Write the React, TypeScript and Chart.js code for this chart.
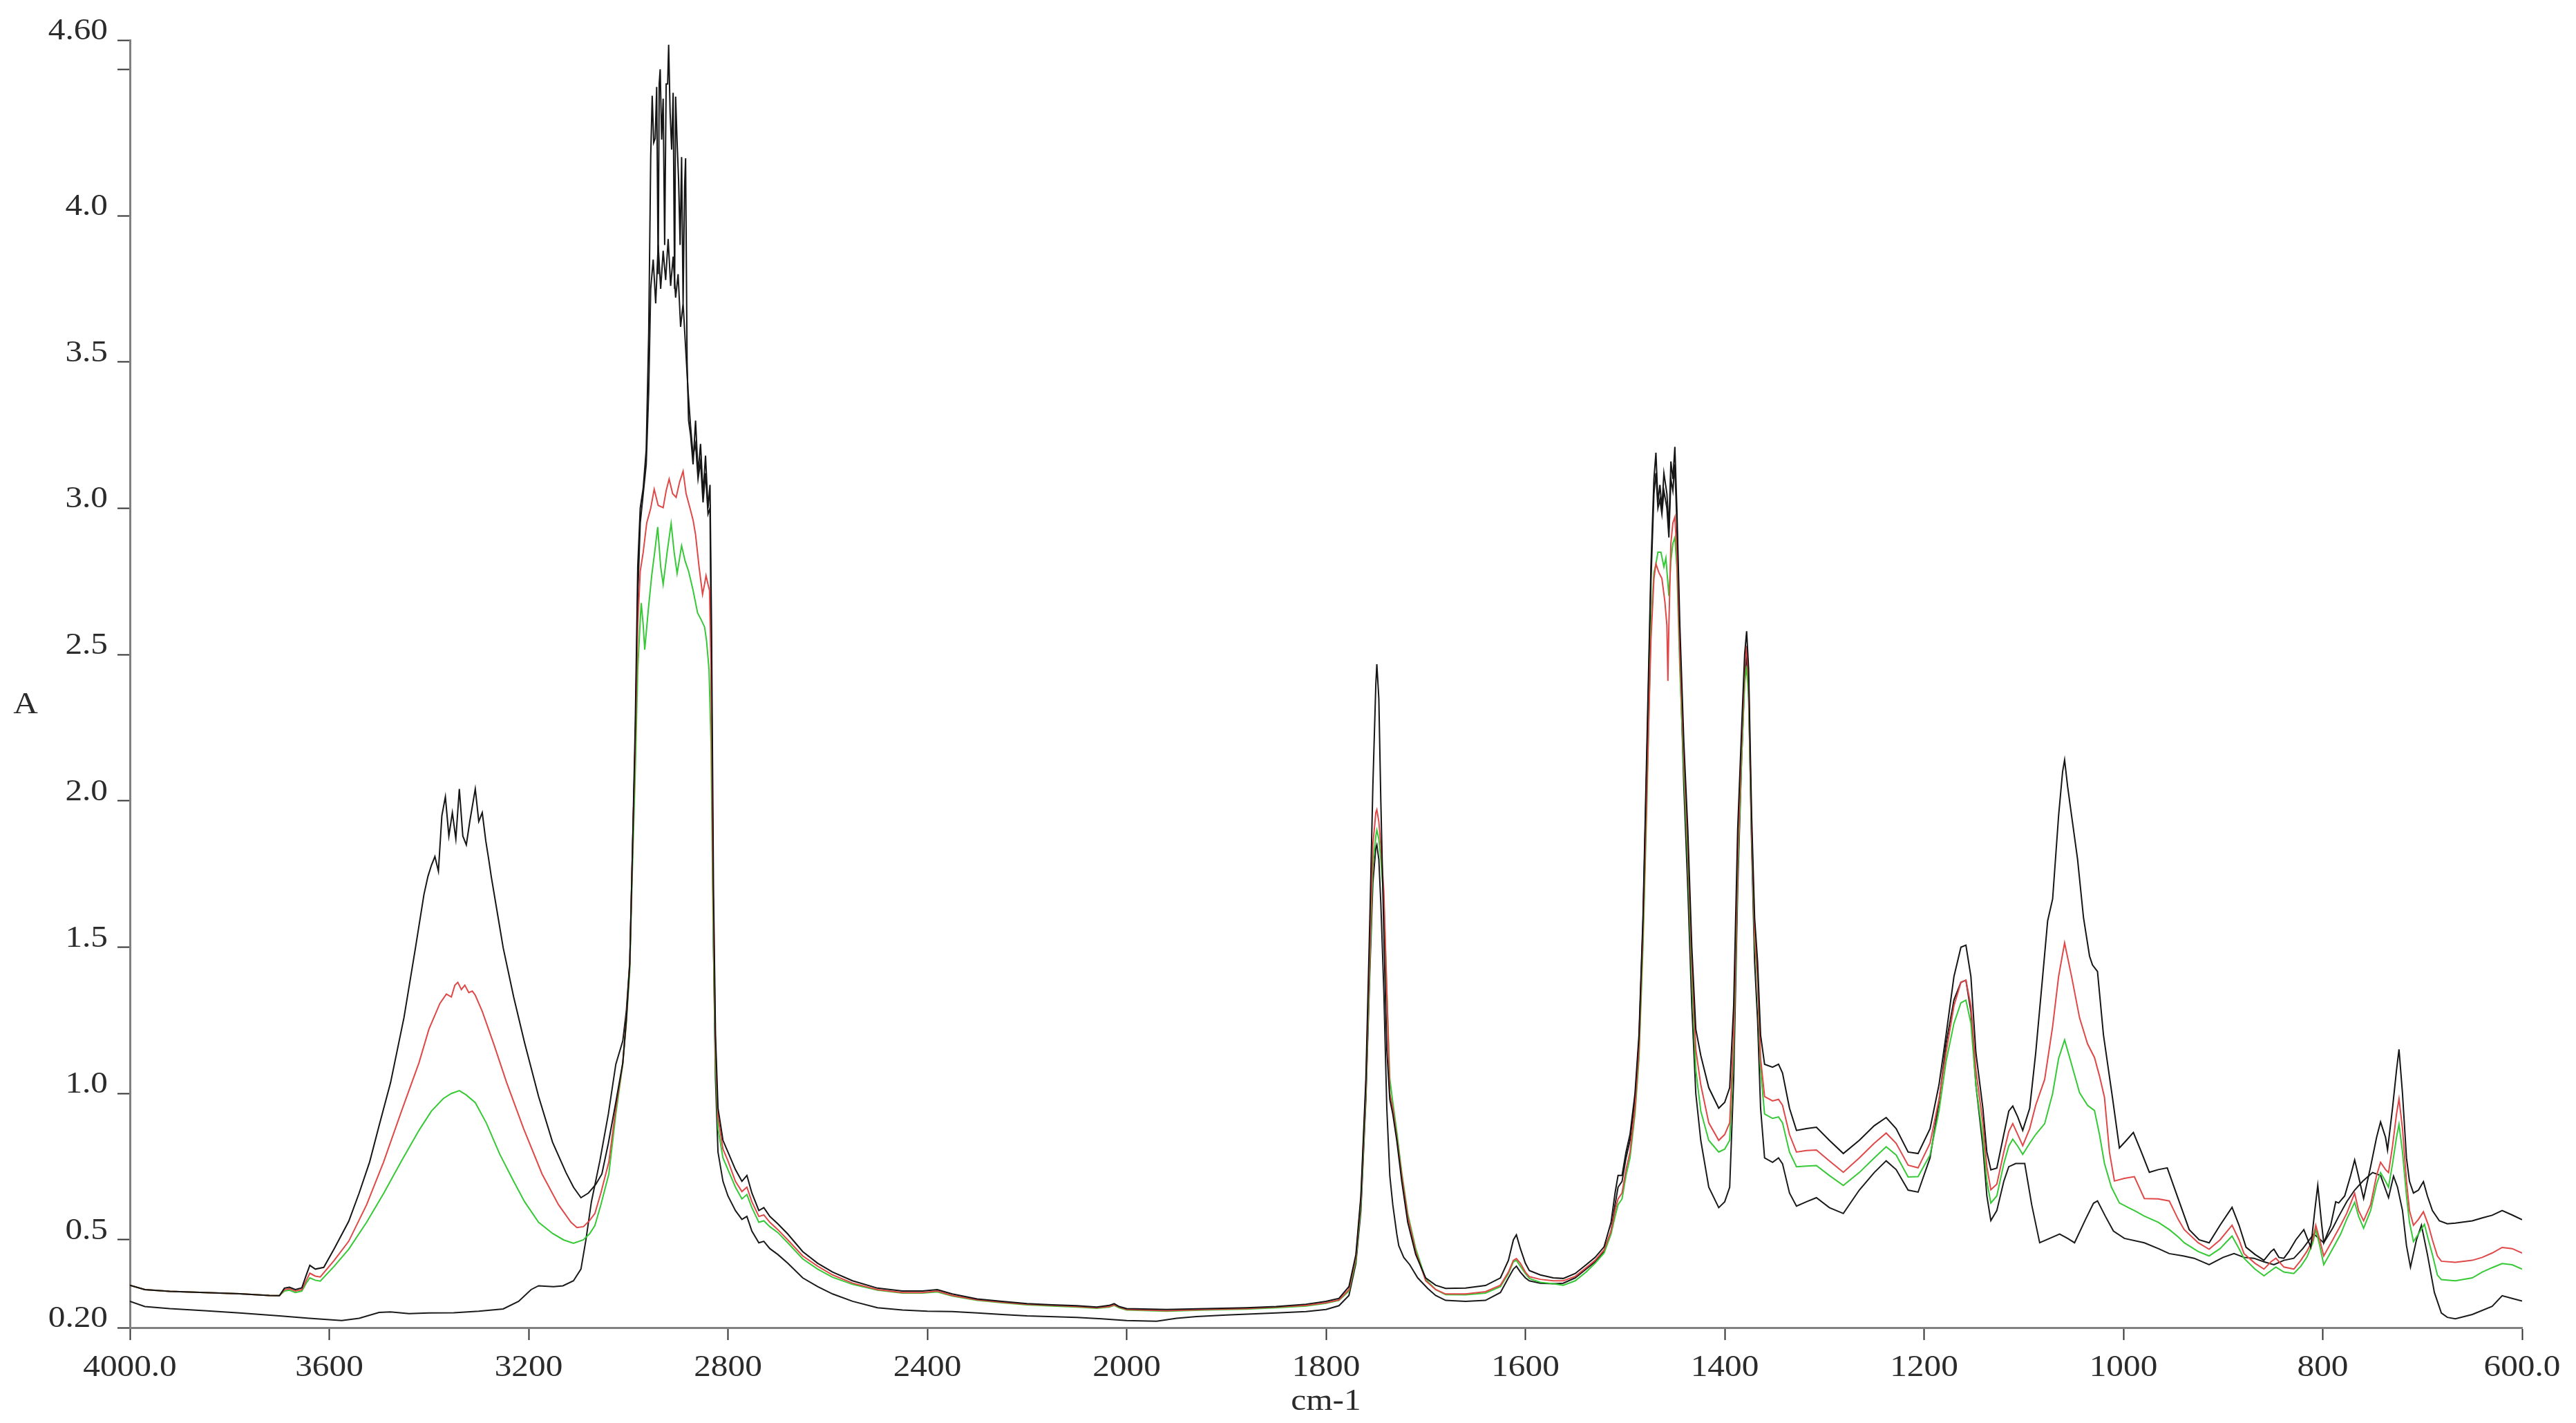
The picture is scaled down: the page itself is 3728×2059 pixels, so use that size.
import React, { useEffect, useRef } from "react";
import { Chart, registerables, LinearScale } from "chart.js";

Chart.register(...registerables);

// ---------------- data (wavenumber cm-1, absorbance A) ----------------
const xTickValues = [4000, 3600, 3200, 2800, 2400, 2000, 1800, 1600, 1400, 1200, 1000, 800, 600];
const xTickLabels = ["4000.0", "3600", "3200", "2800", "2400", "2000", "1800", "1600", "1400", "1200", "1000", "800", "600.0"];
const yTickValues = [0.2, 0.5, 1.0, 1.5, 2.0, 2.5, 3.0, 3.5, 4.0, 4.5, 4.6];
const yTickLabels = ["0.20", "0.5", "1.0", "1.5", "2.0", "2.5", "3.0", "3.5", "4.0", "", "4.60"];
const xTitle = "cm-1";
const yTitle = "A";

const upperBlack: [number, number][] = [
  [4000, 0.345], [3970, 0.33], [3920, 0.324], [3850, 0.32], [3780, 0.316], [3720, 0.31], [3700, 0.309],
  [3690, 0.335], [3680, 0.338], [3668, 0.33], [3655, 0.336], [3645, 0.385], [3639, 0.413], [3628, 0.4],
  [3611, 0.406], [3590, 0.47], [3561, 0.563], [3540, 0.66], [3519, 0.766], [3500, 0.89], [3477, 1.037],
  [3450, 1.26], [3427, 1.498], [3410, 1.68], [3402, 1.742], [3395, 1.78], [3388, 1.81], [3381, 1.76],
  [3374, 1.95], [3367, 2.014], [3360, 1.88], [3353, 1.96], [3346, 1.87], [3339, 2.041], [3332, 1.88],
  [3325, 1.85], [3318, 1.93], [3307, 2.041], [3300, 1.93], [3293, 1.96], [3286, 1.864], [3280, 1.8],
  [3275, 1.742], [3263, 1.62], [3251, 1.498], [3230, 1.33], [3208, 1.173], [3180, 0.99], [3152, 0.834],
  [3125, 0.73], [3110, 0.68], [3095, 0.644], [3080, 0.66], [3065, 0.69], [3053, 0.725], [3040, 0.83],
  [3025, 0.97], [3011, 1.105], [3004, 1.25], [2997, 1.444], [2992, 1.8], [2986, 2.26], [2981, 2.8],
  [2976, 3.0], [2970, 3.07], [2964, 3.2], [2959, 3.6], [2955, 4.2], [2952, 4.41], [2949, 4.25],
  [2946, 4.264], [2943, 4.44], [2940, 3.8], [2938, 4.45], [2936, 4.5], [2933, 4.26], [2930, 4.4],
  [2927, 3.9], [2924, 4.45], [2921, 4.45], [2919, 4.584], [2916, 4.35], [2913, 4.226], [2910, 4.42],
  [2907, 3.75], [2905, 4.407], [2902, 4.25], [2899, 4.12], [2896, 3.9], [2893, 4.2], [2890, 3.7],
  [2887, 4.1], [2885, 4.196], [2882, 3.5], [2879, 3.3], [2875, 3.25], [2870, 3.15], [2865, 3.3],
  [2860, 3.12], [2855, 3.22], [2850, 3.05], [2845, 3.18], [2840, 3.0], [2836, 3.08], [2833, 2.6],
  [2829, 1.7], [2825, 1.2], [2820, 0.95], [2810, 0.84], [2800, 0.8], [2785, 0.74], [2772, 0.7],
  [2762, 0.72], [2752, 0.66], [2738, 0.6], [2728, 0.61], [2716, 0.58], [2700, 0.555], [2680, 0.52],
  [2650, 0.46], [2620, 0.42], [2590, 0.39], [2550, 0.36], [2500, 0.335], [2450, 0.325], [2410, 0.325],
  [2380, 0.33], [2350, 0.315], [2300, 0.298], [2250, 0.29], [2200, 0.282], [2150, 0.278], [2100, 0.275],
  [2060, 0.27], [2035, 0.276], [2025, 0.282], [2015, 0.272], [2000, 0.265], [1960, 0.262], [1920, 0.265],
  [1880, 0.268], [1850, 0.272], [1820, 0.28], [1800, 0.29], [1787, 0.3], [1777, 0.34], [1770, 0.45],
  [1765, 0.65], [1760, 1.05], [1756, 1.6], [1753, 2.05], [1750, 2.4], [1749, 2.467], [1747, 2.35],
  [1745, 2.0], [1742, 1.55], [1739, 1.15], [1736, 0.98], [1733, 0.93], [1729, 0.84], [1724, 0.7],
  [1718, 0.56], [1710, 0.45], [1700, 0.37], [1690, 0.345], [1680, 0.334], [1660, 0.335], [1640, 0.344],
  [1625, 0.37], [1617, 0.43], [1612, 0.5], [1609, 0.517], [1605, 0.47], [1600, 0.42], [1596, 0.395],
  [1585, 0.38], [1572, 0.37], [1562, 0.368], [1550, 0.385], [1539, 0.415], [1530, 0.44], [1521, 0.476],
  [1514, 0.56], [1510, 0.66], [1507, 0.72], [1503, 0.72], [1499, 0.8], [1495, 0.86], [1490, 1.0],
  [1486, 1.2], [1482, 1.6], [1478, 2.2], [1474, 2.8], [1471, 3.1], [1469, 3.19], [1467, 3.02],
  [1465, 3.08], [1463, 3.0], [1461, 3.12], [1458, 3.05], [1456, 2.93], [1454, 3.16], [1452, 3.1],
  [1450, 3.21], [1448, 3.0], [1445, 2.6], [1441, 2.2], [1437, 1.9], [1433, 1.5], [1429, 1.22],
  [1424, 1.13], [1416, 1.02], [1406, 0.95], [1400, 0.97], [1395, 1.02], [1391, 1.3], [1387, 1.9],
  [1383, 2.25], [1380, 2.5], [1378, 2.58], [1376, 2.45], [1373, 1.95], [1370, 1.6], [1367, 1.45],
  [1364, 1.2], [1360, 1.1], [1352, 1.09], [1346, 1.1], [1342, 1.07], [1335, 0.95], [1328, 0.874],
  [1318, 0.88], [1308, 0.885], [1295, 0.84], [1281, 0.795], [1265, 0.84], [1250, 0.89], [1238, 0.918],
  [1228, 0.88], [1216, 0.8], [1206, 0.795], [1194, 0.88], [1185, 1.03], [1178, 1.198], [1170, 1.4],
  [1163, 1.5], [1158, 1.507], [1153, 1.4], [1148, 1.14], [1141, 0.95], [1137, 0.8], [1133, 0.739],
  [1127, 0.745], [1120, 0.86], [1115, 0.94], [1111, 0.957], [1106, 0.92], [1101, 0.874], [1094, 0.95],
  [1088, 1.138], [1081, 1.4], [1076, 1.59], [1071, 1.665], [1065, 1.95], [1061, 2.1], [1059, 2.14],
  [1056, 2.05], [1052, 1.95], [1046, 1.801], [1040, 1.6], [1034, 1.47], [1031, 1.439], [1026, 1.417],
  [1020, 1.2], [1011, 0.987], [1004, 0.814], [997, 0.84], [990, 0.867], [982, 0.8], [974, 0.731],
  [965, 0.74], [956, 0.746], [945, 0.64], [934, 0.535], [924, 0.5], [914, 0.49], [903, 0.55],
  [891, 0.611], [884, 0.55], [877, 0.475], [868, 0.45], [859, 0.43], [852, 0.46], [849, 0.468],
  [844, 0.44], [839, 0.437], [834, 0.46], [827, 0.5], [819, 0.535], [812, 0.475], [808, 0.6],
  [805, 0.686], [801, 0.55], [799, 0.49], [792, 0.55], [787, 0.63], [784, 0.626], [778, 0.65],
  [772, 0.72], [768, 0.773], [765, 0.73], [759, 0.641], [752, 0.75], [746, 0.85], [742, 0.903],
  [737, 0.85], [735, 0.807], [730, 0.95], [726, 1.08], [723.5, 1.151], [720, 1.0], [716, 0.78],
  [713, 0.7], [709, 0.66], [704, 0.67], [699, 0.699], [695, 0.65], [690, 0.6], [683, 0.565],
  [675, 0.555], [667, 0.557], [650, 0.565], [640, 0.575], [630, 0.584], [620, 0.6], [610, 0.585], [600, 0.569],
];

const redTrace: [number, number][] = [
  [4000, 0.345], [3970, 0.33], [3920, 0.324], [3850, 0.32], [3780, 0.316], [3720, 0.31], [3700, 0.309],
  [3690, 0.33], [3680, 0.333], [3668, 0.325], [3655, 0.33], [3645, 0.365], [3639, 0.386], [3628, 0.376],
  [3618, 0.373], [3590, 0.43], [3561, 0.495], [3525, 0.62], [3491, 0.766], [3455, 0.94], [3420, 1.105],
  [3400, 1.22], [3378, 1.308], [3365, 1.34], [3355, 1.33], [3348, 1.37], [3342, 1.38], [3335, 1.355],
  [3328, 1.37], [3320, 1.345], [3313, 1.35], [3307, 1.336], [3293, 1.281], [3270, 1.17], [3244, 1.037],
  [3210, 0.88], [3173, 0.725], [3140, 0.62], [3115, 0.56], [3103, 0.542], [3090, 0.545], [3078, 0.565],
  [3067, 0.59], [3055, 0.66], [3039, 0.766], [3025, 0.95], [3011, 1.105], [3004, 1.25], [2997, 1.444],
  [2992, 1.8], [2986, 2.2], [2981, 2.6], [2976, 2.785], [2970, 2.85], [2963, 2.95], [2955, 3.0],
  [2948, 3.065], [2940, 3.01], [2930, 3.002], [2924, 3.06], [2918, 3.1], [2911, 3.05], [2904, 3.037],
  [2897, 3.09], [2890, 3.127], [2884, 3.05], [2877, 3.006], [2870, 2.96], [2865, 2.91], [2858, 2.8],
  [2851, 2.706], [2847, 2.74], [2844, 2.77], [2840, 2.74], [2837, 2.72], [2834, 2.45], [2830, 1.7],
  [2825, 1.15], [2820, 0.92], [2810, 0.81], [2800, 0.77], [2785, 0.7], [2772, 0.665], [2762, 0.68],
  [2752, 0.63], [2738, 0.58], [2728, 0.585], [2716, 0.56], [2700, 0.535], [2680, 0.5], [2650, 0.445],
  [2620, 0.41], [2590, 0.38], [2550, 0.352], [2500, 0.33], [2450, 0.32], [2410, 0.32], [2380, 0.325],
  [2350, 0.31], [2300, 0.295], [2250, 0.287], [2200, 0.28], [2150, 0.276], [2100, 0.272], [2060, 0.268],
  [2035, 0.272], [2025, 0.278], [2015, 0.27], [2000, 0.262], [1960, 0.258], [1920, 0.262], [1880, 0.265],
  [1850, 0.27], [1820, 0.276], [1800, 0.285], [1787, 0.295], [1777, 0.33], [1770, 0.44], [1765, 0.64],
  [1760, 1.02], [1756, 1.5], [1753, 1.85], [1750, 1.96], [1749, 1.97], [1747, 1.93], [1745, 1.85],
  [1742, 1.69], [1739, 1.35], [1736, 1.0], [1733, 0.95], [1729, 0.85], [1724, 0.72], [1718, 0.58],
  [1710, 0.46], [1700, 0.36], [1690, 0.33], [1680, 0.315], [1660, 0.315], [1640, 0.323], [1625, 0.345],
  [1617, 0.39], [1612, 0.43], [1609, 0.436], [1605, 0.42], [1600, 0.39], [1596, 0.374], [1585, 0.365],
  [1572, 0.36], [1562, 0.36], [1550, 0.375], [1539, 0.405], [1530, 0.43], [1521, 0.466], [1514, 0.53],
  [1510, 0.6], [1507, 0.64], [1503, 0.66], [1499, 0.74], [1495, 0.8], [1490, 0.95], [1486, 1.15],
  [1482, 1.55], [1478, 2.05], [1474, 2.55], [1471, 2.76], [1469, 2.81], [1466, 2.78], [1463, 2.76],
  [1460, 2.68], [1458, 2.6], [1457, 2.41], [1456, 2.6], [1454, 2.88], [1452, 2.95], [1450, 2.97],
  [1448, 2.85], [1445, 2.5], [1441, 2.15], [1437, 1.85], [1433, 1.45], [1429, 1.15], [1424, 1.03],
  [1416, 0.9], [1406, 0.84], [1400, 0.86], [1395, 0.9], [1391, 1.2], [1387, 1.8], [1383, 2.2],
  [1380, 2.45], [1378, 2.53], [1376, 2.4], [1373, 1.9], [1370, 1.55], [1367, 1.4], [1364, 1.12],
  [1360, 0.99], [1352, 0.975], [1346, 0.98], [1342, 0.96], [1335, 0.86], [1328, 0.8], [1318, 0.805],
  [1308, 0.807], [1295, 0.77], [1281, 0.731], [1265, 0.78], [1250, 0.83], [1238, 0.865], [1228, 0.83],
  [1216, 0.755], [1206, 0.746], [1194, 0.83], [1185, 0.98], [1178, 1.138], [1170, 1.3], [1163, 1.38],
  [1158, 1.387], [1153, 1.3], [1148, 1.08], [1141, 0.9], [1137, 0.75], [1133, 0.671], [1127, 0.69],
  [1120, 0.8], [1115, 0.87], [1111, 0.897], [1106, 0.86], [1101, 0.822], [1094, 0.88], [1088, 0.96],
  [1079, 1.048], [1071, 1.229], [1065, 1.4], [1059, 1.515], [1052, 1.4], [1044, 1.259], [1036, 1.17],
  [1029, 1.123], [1024, 1.06], [1019, 0.987], [1014, 0.8], [1009, 0.701], [999, 0.71], [989, 0.716],
  [979, 0.641], [965, 0.64], [954, 0.633], [945, 0.57], [939, 0.535], [925, 0.49], [914, 0.468],
  [903, 0.5], [891, 0.55], [884, 0.5], [879, 0.453], [868, 0.42], [859, 0.4], [852, 0.425],
  [847, 0.437], [839, 0.407], [829, 0.4], [822, 0.43], [816, 0.46], [810, 0.5], [807, 0.55],
  [803, 0.5], [799, 0.445], [790, 0.5], [782, 0.55], [776, 0.59], [768, 0.659], [764, 0.6],
  [759, 0.565], [752, 0.62], [746, 0.72], [742, 0.765], [737, 0.74], [734, 0.73], [730, 0.82],
  [726, 0.93], [723.5, 0.982], [720, 0.88], [716, 0.7], [713, 0.6], [709, 0.55], [704, 0.57],
  [699, 0.596], [694, 0.55], [690, 0.5], [685, 0.445], [681, 0.427], [667, 0.423], [650, 0.43],
  [640, 0.44], [630, 0.455], [620, 0.474], [610, 0.47], [600, 0.455],
];

const greenTrace: [number, number][] = [
  [4000, 0.345], [3970, 0.33], [3920, 0.324], [3850, 0.32], [3780, 0.316], [3720, 0.31], [3700, 0.309],
  [3690, 0.325], [3680, 0.328], [3668, 0.32], [3655, 0.325], [3645, 0.355], [3639, 0.37], [3628, 0.362],
  [3618, 0.359], [3590, 0.41], [3561, 0.468], [3525, 0.56], [3491, 0.658], [3455, 0.77], [3420, 0.874],
  [3395, 0.94], [3371, 0.983], [3355, 1.0], [3339, 1.01], [3325, 0.995], [3307, 0.969], [3285, 0.9],
  [3258, 0.793], [3230, 0.7], [3208, 0.63], [3180, 0.56], [3152, 0.522], [3130, 0.5], [3110, 0.488],
  [3090, 0.5], [3078, 0.52], [3067, 0.549], [3055, 0.62], [3039, 0.725], [3025, 0.93], [3011, 1.1],
  [3004, 1.24], [2997, 1.42], [2992, 1.75], [2986, 2.1], [2981, 2.45], [2976, 2.62], [2974, 2.676],
  [2970, 2.6], [2967, 2.517], [2960, 2.65], [2953, 2.77], [2947, 2.85], [2941, 2.936], [2935, 2.8],
  [2930, 2.74], [2922, 2.85], [2914, 2.948], [2908, 2.85], [2902, 2.777], [2893, 2.872], [2886, 2.82],
  [2879, 2.785], [2870, 2.72], [2861, 2.643], [2854, 2.62], [2847, 2.595], [2843, 2.548], [2838, 2.45],
  [2834, 2.2], [2830, 1.6], [2825, 1.1], [2820, 0.88], [2810, 0.78], [2800, 0.74], [2785, 0.68],
  [2772, 0.64], [2762, 0.655], [2752, 0.61], [2738, 0.56], [2728, 0.565], [2716, 0.545], [2700, 0.525],
  [2680, 0.49], [2650, 0.435], [2620, 0.4], [2590, 0.372], [2550, 0.348], [2500, 0.328], [2450, 0.318],
  [2410, 0.318], [2380, 0.322], [2350, 0.308], [2300, 0.293], [2250, 0.285], [2200, 0.278], [2150, 0.274],
  [2100, 0.27], [2060, 0.266], [2035, 0.27], [2025, 0.276], [2015, 0.268], [2000, 0.26], [1960, 0.256],
  [1920, 0.26], [1880, 0.263], [1850, 0.268], [1820, 0.274], [1800, 0.283], [1787, 0.293], [1777, 0.325],
  [1770, 0.43], [1765, 0.62], [1760, 1.0], [1756, 1.45], [1753, 1.78], [1750, 1.88], [1749, 1.9],
  [1747, 1.87], [1745, 1.8], [1742, 1.66], [1739, 1.35], [1736, 1.05], [1733, 0.97], [1729, 0.87],
  [1724, 0.73], [1718, 0.59], [1710, 0.47], [1700, 0.365], [1690, 0.33], [1680, 0.313], [1660, 0.312],
  [1640, 0.318], [1625, 0.34], [1617, 0.385], [1612, 0.425], [1609, 0.43], [1605, 0.41], [1600, 0.385],
  [1596, 0.368], [1585, 0.355], [1572, 0.35], [1562, 0.345], [1550, 0.36], [1539, 0.39], [1530, 0.42],
  [1521, 0.455], [1514, 0.52], [1510, 0.58], [1507, 0.62], [1503, 0.64], [1499, 0.72], [1495, 0.78],
  [1490, 0.93], [1486, 1.12], [1482, 1.5], [1478, 2.0], [1474, 2.6], [1471, 2.78], [1469, 2.81],
  [1467, 2.85], [1464, 2.85], [1461, 2.8], [1459, 2.83], [1456, 2.7], [1454, 2.82], [1452, 2.88],
  [1450, 2.9], [1448, 2.8], [1445, 2.45], [1441, 2.1], [1437, 1.8], [1433, 1.4], [1429, 1.08],
  [1424, 0.94], [1416, 0.84], [1406, 0.8], [1400, 0.81], [1395, 0.84], [1391, 1.15], [1387, 1.75],
  [1383, 2.15], [1380, 2.4], [1378, 2.46], [1376, 2.35], [1373, 1.88], [1370, 1.52], [1367, 1.38],
  [1364, 1.08], [1360, 0.93], [1352, 0.915], [1346, 0.92], [1342, 0.9], [1335, 0.8], [1328, 0.75],
  [1318, 0.752], [1308, 0.754], [1295, 0.72], [1281, 0.686], [1265, 0.73], [1250, 0.78], [1238, 0.818],
  [1228, 0.79], [1216, 0.715], [1206, 0.716], [1194, 0.79], [1185, 0.94], [1178, 1.108], [1170, 1.24],
  [1163, 1.31], [1158, 1.319], [1153, 1.24], [1148, 1.03], [1141, 0.85], [1137, 0.7], [1133, 0.626],
  [1127, 0.65], [1120, 0.76], [1115, 0.82], [1111, 0.844], [1106, 0.82], [1101, 0.792], [1094, 0.83],
  [1088, 0.86], [1079, 0.897], [1071, 1.0], [1065, 1.12], [1059, 1.183], [1052, 1.1], [1044, 1.003],
  [1036, 0.96], [1029, 0.942], [1024, 0.86], [1019, 0.761], [1012, 0.68], [1004, 0.626], [995, 0.61],
  [989, 0.6], [979, 0.581], [965, 0.56], [954, 0.535], [945, 0.51], [939, 0.49], [925, 0.46],
  [914, 0.445], [903, 0.47], [891, 0.513], [884, 0.47], [879, 0.437], [868, 0.4], [859, 0.377],
  [852, 0.395], [847, 0.407], [839, 0.39], [829, 0.385], [822, 0.41], [816, 0.44], [810, 0.49],
  [807, 0.535], [803, 0.48], [799, 0.415], [790, 0.47], [782, 0.52], [776, 0.57], [768, 0.628],
  [764, 0.58], [759, 0.54], [752, 0.6], [746, 0.69], [742, 0.73], [737, 0.7], [734, 0.68],
  [730, 0.76], [726, 0.85], [723.5, 0.895], [720, 0.8], [716, 0.65], [713, 0.56], [709, 0.494],
  [704, 0.52], [698, 0.553], [694, 0.5], [690, 0.45], [685, 0.38], [681, 0.364], [667, 0.36],
  [650, 0.37], [640, 0.39], [630, 0.405], [620, 0.419], [610, 0.415], [600, 0.4],
];

const lowerBlack: [number, number][] = [
  [4000, 0.29], [3970, 0.272], [3920, 0.265], [3850, 0.258], [3780, 0.25], [3700, 0.24], [3640, 0.232],
  [3575, 0.224], [3540, 0.232], [3500, 0.252], [3477, 0.254], [3440, 0.248], [3400, 0.25], [3350, 0.251],
  [3300, 0.256], [3251, 0.264], [3220, 0.29], [3195, 0.33], [3180, 0.343], [3150, 0.34], [3131, 0.343],
  [3110, 0.36], [3095, 0.4], [3085, 0.5], [3074, 0.63], [3057, 0.77], [3040, 0.93], [3025, 1.1],
  [3011, 1.18], [3004, 1.28], [2997, 1.45], [2992, 1.8], [2986, 2.2], [2981, 2.7], [2976, 2.95],
  [2970, 3.05], [2964, 3.15], [2959, 3.4], [2955, 3.75], [2950, 3.85], [2945, 3.7], [2940, 3.9],
  [2935, 3.75], [2930, 3.88], [2925, 3.78], [2920, 3.92], [2915, 3.76], [2910, 3.86], [2905, 3.72],
  [2900, 3.8], [2895, 3.62], [2890, 3.7], [2885, 3.55], [2880, 3.4], [2875, 3.28], [2870, 3.18],
  [2865, 3.22], [2860, 3.1], [2855, 3.16], [2850, 3.02], [2845, 3.12], [2840, 2.98], [2836, 3.0],
  [2833, 2.4], [2829, 1.5], [2825, 1.05], [2820, 0.8], [2810, 0.7], [2800, 0.65], [2785, 0.6],
  [2772, 0.57], [2762, 0.58], [2752, 0.53], [2738, 0.49], [2728, 0.495], [2716, 0.47], [2700, 0.45],
  [2680, 0.42], [2650, 0.37], [2620, 0.34], [2590, 0.315], [2550, 0.29], [2500, 0.268], [2450, 0.26],
  [2400, 0.256], [2350, 0.255], [2300, 0.25], [2250, 0.245], [2200, 0.24], [2100, 0.235], [2050, 0.23],
  [2000, 0.224], [1970, 0.222], [1950, 0.232], [1930, 0.238], [1900, 0.243], [1850, 0.25], [1820, 0.255],
  [1800, 0.262], [1787, 0.275], [1777, 0.31], [1770, 0.42], [1765, 0.6], [1760, 0.98], [1756, 1.42],
  [1753, 1.72], [1750, 1.84], [1749, 1.85], [1747, 1.8], [1745, 1.65], [1742, 1.35], [1739, 0.95],
  [1736, 0.72], [1733, 0.62], [1729, 0.52], [1727, 0.48], [1722, 0.44], [1716, 0.415], [1708, 0.37],
  [1698, 0.334], [1690, 0.31], [1680, 0.293], [1660, 0.29], [1640, 0.293], [1625, 0.32], [1617, 0.37],
  [1612, 0.4], [1609, 0.41], [1605, 0.39], [1600, 0.37], [1596, 0.36], [1585, 0.352], [1572, 0.35],
  [1562, 0.352], [1550, 0.37], [1539, 0.4], [1530, 0.425], [1521, 0.46], [1514, 0.53], [1510, 0.62],
  [1507, 0.68], [1503, 0.7], [1499, 0.78], [1495, 0.84], [1490, 0.98], [1486, 1.18], [1482, 1.58],
  [1478, 2.15], [1474, 2.75], [1471, 3.05], [1469, 3.12], [1467, 3.0], [1465, 3.03], [1463, 2.98],
  [1461, 3.06], [1458, 3.0], [1456, 2.9], [1454, 3.1], [1452, 3.06], [1450, 3.15], [1448, 2.95],
  [1445, 2.5], [1441, 2.05], [1437, 1.7], [1433, 1.3], [1429, 1.0], [1424, 0.84], [1416, 0.68],
  [1406, 0.61], [1400, 0.63], [1395, 0.68], [1391, 1.05], [1387, 1.7], [1383, 2.15], [1380, 2.42],
  [1378, 2.5], [1376, 2.38], [1373, 1.85], [1370, 1.45], [1367, 1.25], [1364, 0.95], [1360, 0.78],
  [1352, 0.765], [1346, 0.78], [1342, 0.76], [1335, 0.66], [1328, 0.615], [1318, 0.63], [1308, 0.644],
  [1295, 0.61], [1281, 0.59], [1265, 0.67], [1250, 0.73], [1238, 0.77], [1228, 0.74], [1216, 0.67],
  [1206, 0.663], [1194, 0.78], [1185, 0.97], [1178, 1.168], [1170, 1.32], [1163, 1.38], [1158, 1.387],
  [1153, 1.28], [1148, 1.03], [1141, 0.82], [1137, 0.65], [1133, 0.566], [1127, 0.6], [1120, 0.7],
  [1115, 0.75], [1108, 0.761], [1099, 0.761], [1092, 0.62], [1084, 0.49], [1074, 0.505], [1064, 0.52],
  [1056, 0.505], [1049, 0.49], [1038, 0.57], [1030, 0.625], [1026, 0.633], [1018, 0.58], [1010, 0.53],
  [999, 0.505], [979, 0.49], [965, 0.47], [954, 0.453], [940, 0.445], [929, 0.437], [914, 0.415],
  [900, 0.44], [889, 0.453], [879, 0.44], [869, 0.437], [859, 0.425], [849, 0.415], [839, 0.43],
  [829, 0.437], [820, 0.47], [809, 0.52], [804, 0.505], [799, 0.49], [790, 0.54], [784, 0.58],
  [776, 0.63], [768, 0.67], [760, 0.7], [750, 0.73], [742, 0.72], [734, 0.644], [729, 0.718],
  [725, 0.68], [720, 0.6], [716, 0.48], [712, 0.407], [706, 0.5], [701, 0.55], [695, 0.45],
  [688, 0.32], [681, 0.25], [675, 0.235], [667, 0.23], [650, 0.245], [630, 0.273], [620, 0.309],
  [610, 0.3], [600, 0.291],
];

// ---------------- piecewise wavenumber axis (4000-2000 at half scale) ----------------
const AXIS_UNITS = 12;
function toAxisPosition(w: number): number {
  return w >= 2000 ? (4000 - w) / 400 : 5 + (2000 - w) / 200;
}
function fromAxisPosition(p: number): number {
  return p <= 5 ? 4000 - p * 400 : 2000 - (p - 5) * 200;
}

class WavenumberScale extends LinearScale {
  static id = "wavenumber";
  static defaults = {};
  getPixelForValue(value: number) {
    return this.getPixelForDecimal(toAxisPosition(value) / AXIS_UNITS);
  }
  getValueForPixel(pixel: number) {
    return fromAxisPosition(this.getDecimalForPixel(pixel) * AXIS_UNITS);
  }
}
Chart.register(WavenumberScale as any);

const FONT = "'Liberation Serif', 'Times New Roman', serif";
const FONT_SIZE = 44;
const TEXT_STRETCH = 1.12;
const TEXT_COLOR = "#2b2b2b";

function drawStretched(ctx: CanvasRenderingContext2D, text: string, x: number, y: number, align: CanvasTextAlign, baseline: CanvasTextBaseline) {
  if (!text) return;
  ctx.save();
  ctx.translate(x, y);
  ctx.scale(TEXT_STRETCH, 1);
  ctx.textAlign = align;
  ctx.textBaseline = baseline;
  ctx.fillText(text, 0, 0);
  ctx.restore();
}

const axisText = {
  id: "axisText",
  afterDraw(chart: any) {
    const { ctx, chartArea, scales } = chart;
    ctx.save();
    ctx.font = `${FONT_SIZE}px ${FONT}`;
    ctx.fillStyle = TEXT_COLOR;
    const xs = scales.x;
    const ys = scales.y;
    xTickValues.forEach((v, i) => {
      drawStretched(ctx, xTickLabels[i], xs.getPixelForValue(v), chartArea.bottom + 58, "center", "middle");
    });
    yTickValues.forEach((v, i) => {
      drawStretched(ctx, yTickLabels[i], chartArea.left - 32, ys.getPixelForValue(v) - 1, "right", "alphabetic");
    });
    drawStretched(ctx, yTitle, 37, 1020, "center", "middle");
    drawStretched(ctx, xTitle, (chartArea.left + chartArea.right) / 2, 2028, "center", "middle");
    ctx.restore();
  },
};

export default function App() {
  const canvasRef = useRef<HTMLCanvasElement | null>(null);

  useEffect(() => {
    const canvas = canvasRef.current;
    if (!canvas) return;
    const toPoints = (arr: [number, number][]) => arr.map(([x, y]) => ({ x, y }));
    const chart = new Chart(canvas, {
      type: "line",
      data: {
        datasets: [
          { label: "upper", data: toPoints(upperBlack), borderColor: "#151515", borderWidth: 2 },
          { label: "red", data: toPoints(redTrace), borderColor: "#e04848", borderWidth: 2 },
          { label: "green", data: toPoints(greenTrace), borderColor: "#36c936", borderWidth: 2 },
          { label: "lower", data: toPoints(lowerBlack), borderColor: "#1a1a1a", borderWidth: 2 },
        ],
      },
      options: {
        responsive: false,
        animation: false,
        devicePixelRatio: 1,
        events: [],
        layout: { padding: { left: 0, right: 78, top: 58, bottom: 0 } },
        elements: { point: { radius: 0 }, line: { tension: 0, fill: false } },
        plugins: { legend: { display: false }, tooltip: { enabled: false }, title: { display: false } },
        scales: {
          x: {
            type: "wavenumber" as any,
            min: 600,
            max: 4000,
            afterBuildTicks: (s: any) => {
              s.ticks = xTickValues.map((v) => ({ value: v }));
            },
            afterFit: (s: any) => {
              s.height = 138;
            },
            grid: { drawOnChartArea: false, drawTicks: true, tickLength: 18, tickColor: "#303030", tickWidth: 2 },
            border: { display: true, color: "#808080", width: 3 },
            ticks: { display: false, autoSkip: false, maxRotation: 0, minRotation: 0 },
          },
          y: {
            type: "linear",
            min: 0.2,
            max: 4.6,
            afterBuildTicks: (s: any) => {
              s.ticks = yTickValues.map((v) => ({ value: v }));
            },
            afterFit: (s: any) => {
              s.width = 188;
            },
            grid: { drawOnChartArea: false, drawTicks: true, tickLength: 18, tickColor: "#303030", tickWidth: 2 },
            border: { display: true, color: "#808080", width: 3 },
            ticks: { display: false, autoSkip: false },
          },
        },
      },
      plugins: [axisText],
    });
    return () => chart.destroy();
  }, []);

  return (
    <div style={{ position: "fixed", left: 0, top: 0, width: 3728, height: 2059, background: "#fff" }}>
      <canvas ref={canvasRef} width={3728} height={2059} style={{ display: "block" }} />
    </div>
  );
}
